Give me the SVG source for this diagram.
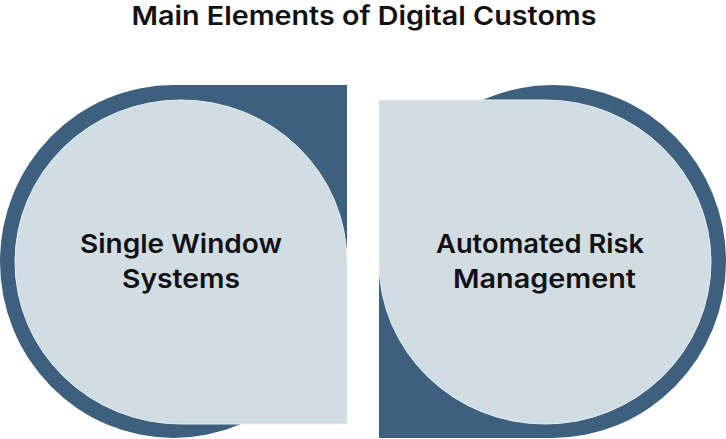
<svg xmlns="http://www.w3.org/2000/svg" width="726" height="439" viewBox="0 0 726 439">
<style>
.dark{fill:#3d607e;}
.light{fill:#d1dde3;stroke:#e6f0f4;stroke-width:1;}
text{font-family:Inter,"Liberation Sans",sans-serif;font-weight:600;fill:#111111;text-anchor:middle;}
.title{font-size:26px;}
.lbl{font-size:26px;}
</style>
<rect width="726" height="439" fill="#ffffff"/>
<text class="title" x="364" y="25" textLength="465" lengthAdjust="spacingAndGlyphs">Main Elements of Digital Customs</text>
<g id="node-single-window">
<path class="dark" d="M173.5,85 H347 V261.5 A173.5,176.5 0 1 1 173.5,85 Z"/>
<path class="light" d="M15,262 A166,162 0 0 1 181,100 A166,162 0 0 1 347,262 V424 H181 A166,162 0 0 1 15,262 Z"/>
<text class="lbl" x="181" y="253" textLength="202" lengthAdjust="spacingAndGlyphs">Single Window</text>
<text class="lbl" x="181" y="288" textLength="118" lengthAdjust="spacingAndGlyphs">Systems</text>
</g>
<g id="node-automated-risk">
<path class="dark" d="M552.5,438 H379 V261.5 A173.5,176.5 0 1 1 552.5,438 Z"/>
<path class="light" d="M711,262 A166,162 0 0 1 545,424 A166,162 0 0 1 379,262 V100 H545 A166,162 0 0 1 711,262 Z"/>
<text class="lbl" x="540" y="253" textLength="208" lengthAdjust="spacingAndGlyphs">Automated Risk</text>
<text class="lbl" x="544.5" y="288" textLength="183" lengthAdjust="spacingAndGlyphs">Management</text>
</g>
<g id="connectors"></g>
</svg>
